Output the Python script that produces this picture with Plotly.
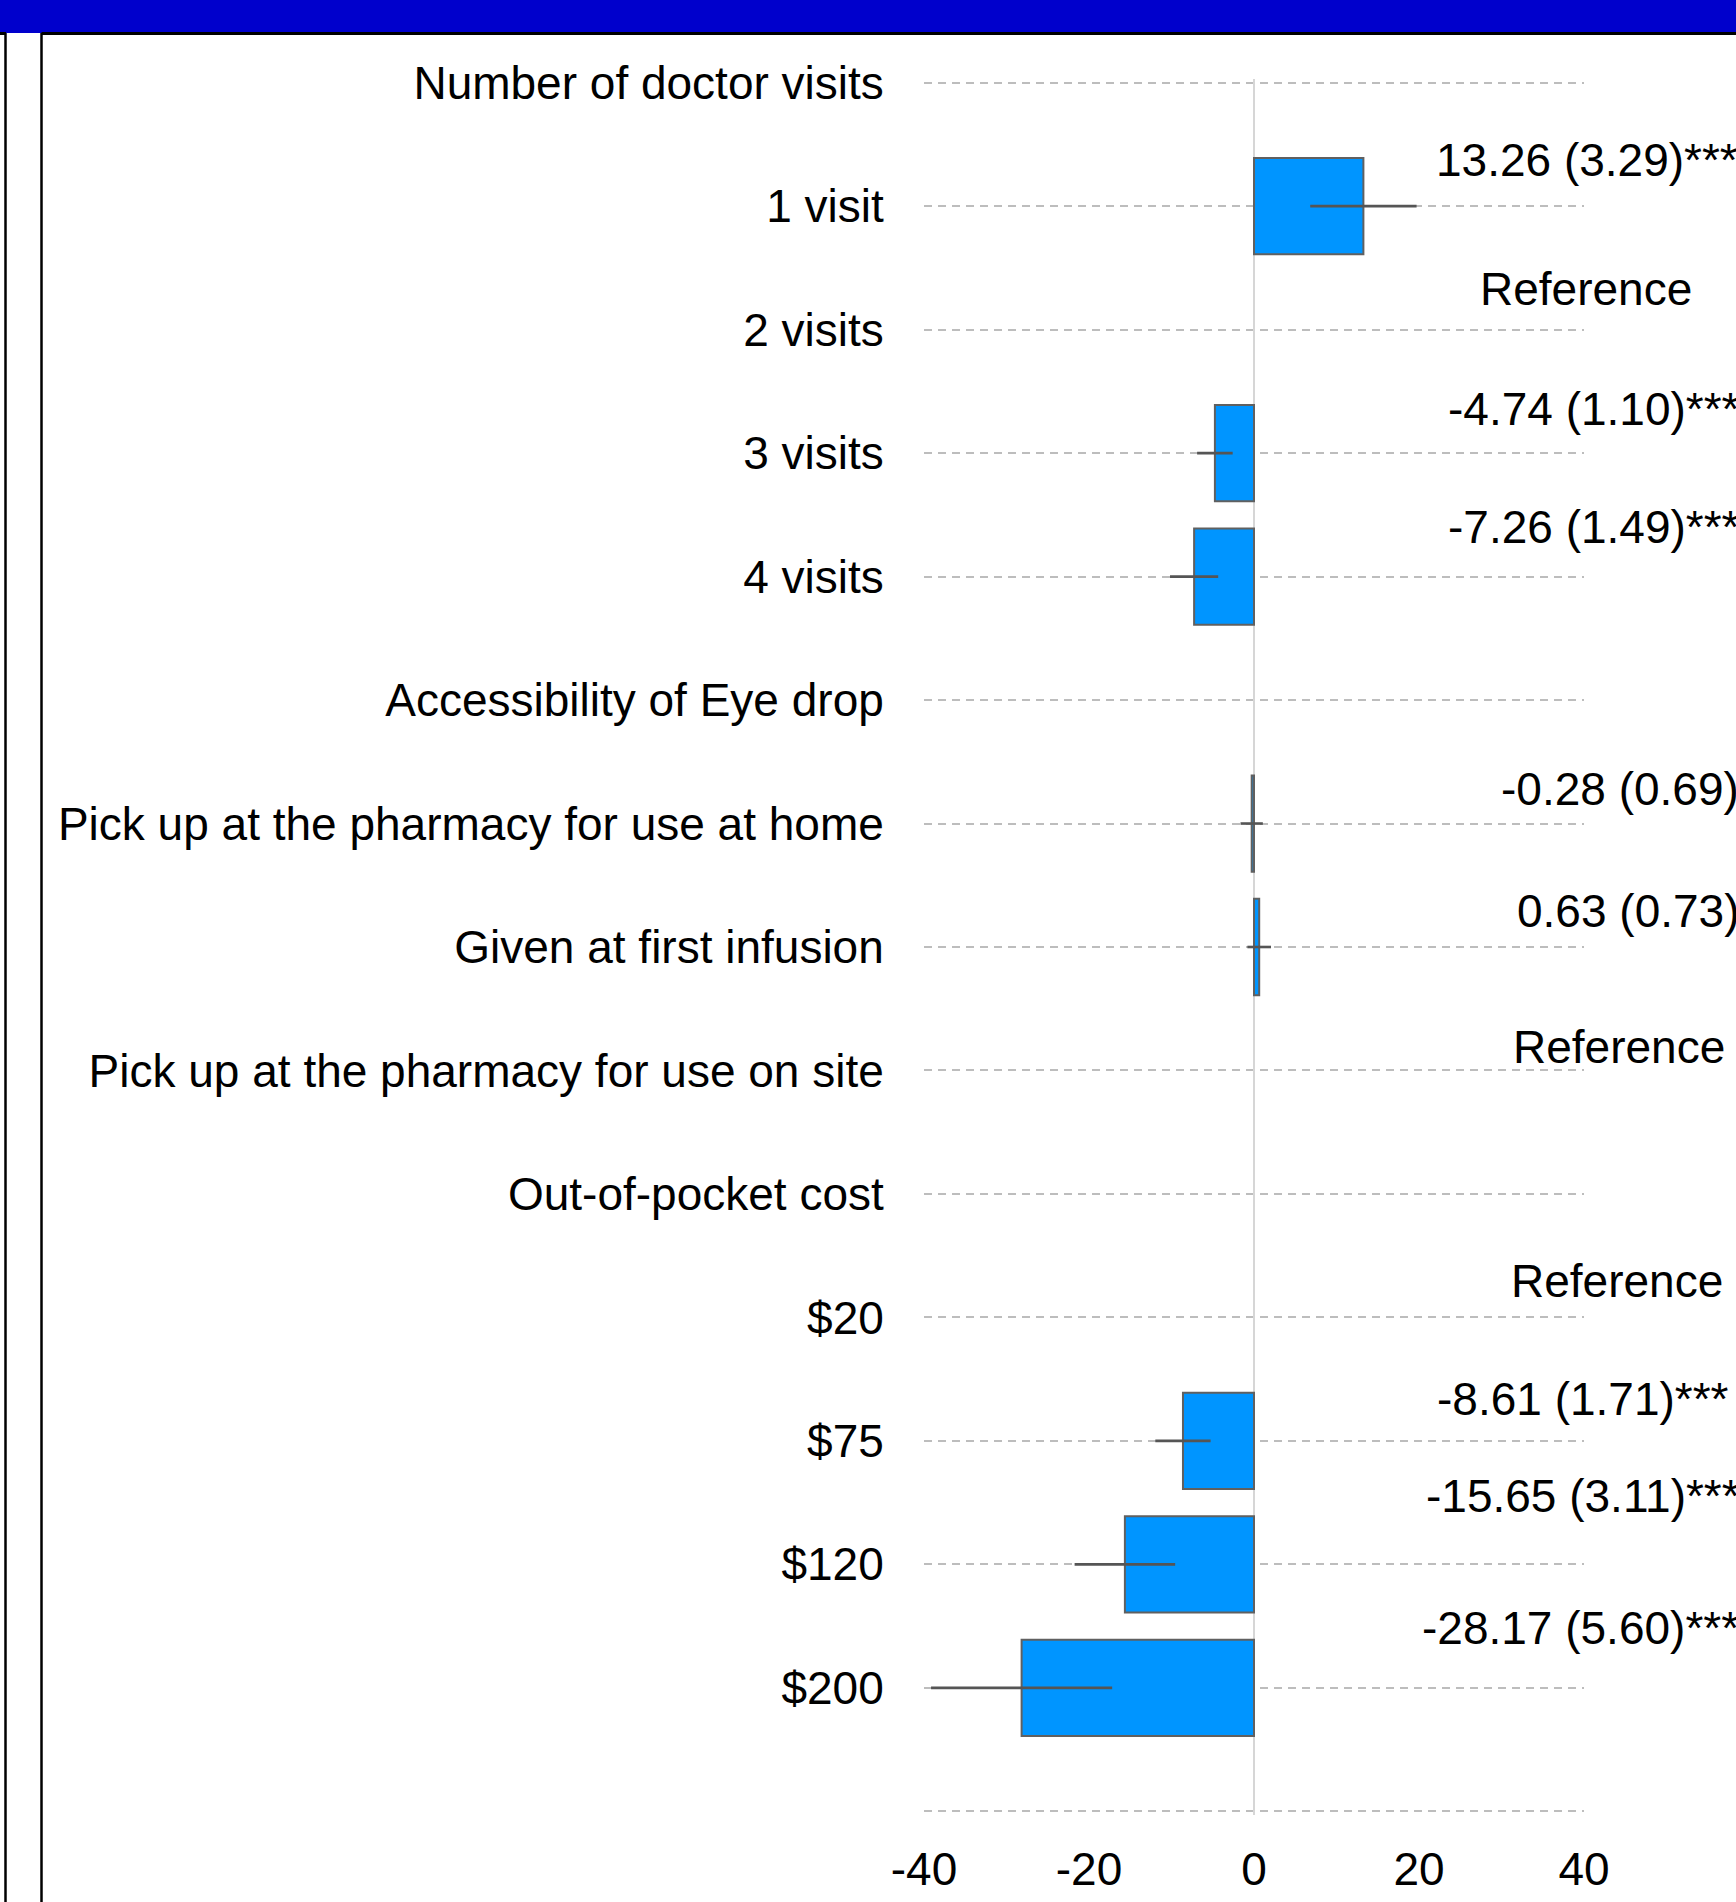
import plotly.graph_objects as go

# ---- data ----
categories = [
    "Number of doctor visits", "1 visit", "2 visits", "3 visits", "4 visits",
    "Accessibility of Eye drop", "Pick up at the pharmacy for use at home",
    "Given at first infusion", "Pick up at the pharmacy for use on site",
    "Out-of-pocket cost", "$20", "$75", "$120", "$200", "",
]
estimates = [None, 13.26, None, -4.74, -7.26, None, -0.28, 0.63, None, None, None,
             -8.61, -15.65, -28.17, None]
std_errors = [None, 3.29, None, 1.10, 1.49, None, 0.69, 0.73, None, None, None,
              1.71, 3.11, 5.60, None]
label_texts = [None, "13.26 (3.29)***", "Reference", "-4.74 (1.10)***", "-7.26 (1.49)***",
               None, "-0.28 (0.69)", "0.63 (0.73)", "Reference", None, "Reference",
               "-8.61 (1.71)***", "-15.65 (3.11)***", "-28.17 (5.60)***", None]
x_ticks = [-40, -20, 0, 20, 40]

# label placement (layout only): left x in data units, y in row units
label_pos = {
    1: (21.76, 0.629), 2: (27.2, 1.670), 3: (23.24, 2.643), 4: (23.24, 3.596),
    6: (29.7, 5.718), 7: (31.6, 6.710), 8: (31.2, 7.810), 10: (30.9, 9.706),
    11: (21.9, 10.659), 12: (20.6, 11.445), 13: (20.1, 12.516),
}

ypos = list(range(len(categories)))
ci = [None if s is None else 1.96 * s for s in std_errors]

FONT = "Liberation Sans, Arial, sans-serif"
W, H = 1736, 1902
L, R, T, B = 924, 152, 79, 87
PW, PH = W - L - R, H - T - B

fig = go.Figure()
fig.add_trace(go.Bar(
    x=estimates, y=ypos, orientation="h", width=0.78,
    marker=dict(color="#0095FF", line=dict(color="#606060", width=2)),
    error_x=dict(type="data", array=ci, symmetric=True, color="#555555",
                 thickness=2.6, width=0),
    showlegend=False, hoverinfo="skip",
))

for i, t in enumerate(label_texts):
    if t is None:
        continue
    lx, ly = label_pos[i]
    fig.add_annotation(x=lx, y=ly, xref="x", yref="y", text=t, showarrow=False,
                       xanchor="left", yanchor="middle",
                       font=dict(family=FONT, size=46, color="black"))

def px_x(p):
    return (p - L) / PW

def px_y(p):
    return (H - B - p) / PH

shapes = [
    dict(type="rect", xref="paper", yref="paper", x0=px_x(0), x1=px_x(W),
         y0=px_y(0), y1=px_y(33), fillcolor="#0000CC", line=dict(width=0), layer="above"),
    dict(type="line", xref="paper", yref="paper", x0=px_x(0), x1=px_x(6),
         y0=px_y(33.5), y1=px_y(33.5), line=dict(color="black", width=3), layer="above"),
    dict(type="line", xref="paper", yref="paper", x0=px_x(41.5), x1=px_x(W),
         y0=px_y(33.5), y1=px_y(33.5), line=dict(color="black", width=3), layer="above"),
    dict(type="line", xref="paper", yref="paper", x0=px_x(5.5), x1=px_x(5.5),
         y0=px_y(33), y1=px_y(H), line=dict(color="black", width=2.5), layer="above"),
    dict(type="line", xref="paper", yref="paper", x0=px_x(41.5), x1=px_x(41.5),
         y0=px_y(33), y1=px_y(H), line=dict(color="black", width=2.5), layer="above"),
]

fig.update_layout(
    width=W, height=H,
    margin=dict(l=L, r=R, t=T, b=B, pad=0),
    paper_bgcolor="white", plot_bgcolor="white",
    font=dict(family=FONT, size=46, color="black"),
    shapes=shapes,
    bargap=0.2,
)
fig.update_xaxes(range=[-40, 40], tickmode="array", tickvals=x_ticks,
                 ticktext=[str(v) for v in x_ticks],
                 showgrid=False, zeroline=True, zerolinecolor="#d6d6d6", zerolinewidth=2,
                 showline=False, ticks="outside", ticklen=14, tickcolor="rgba(0,0,0,0)",
                 tickfont=dict(family=FONT, size=46, color="black"), automargin=False)
fig.update_yaxes(range=[14.03, -0.03], tickmode="array", tickvals=ypos, ticktext=categories,
                 showgrid=True, gridcolor="#bdbdbd", gridwidth=2, griddash="8px,6px",
                 zeroline=False, showline=False, ticks="outside", ticklen=30,
                 tickcolor="rgba(0,0,0,0)",
                 tickfont=dict(family=FONT, size=46, color="black"), automargin=False)

fig.write_html("out.html")
